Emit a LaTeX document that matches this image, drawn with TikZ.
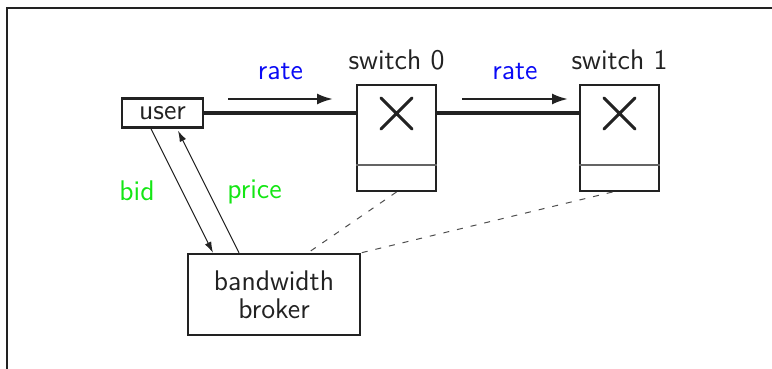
\documentclass[tikz,border=0pt]{standalone}
\usepackage{xcolor}
\usepackage{tikz}
\usetikzlibrary{arrows.meta, positioning, shapes.misc, calc}
\definecolor{dkgray}{RGB}{34,34,34}
\definecolor{rateblue}{RGB}{10,10,245}
\definecolor{bidgreen}{RGB}{20,230,20}
\tikzset{
    userbox/.style={rectangle, draw=dkgray, line width=1.2pt, fill=white,
                    minimum width=40.5pt, minimum height=14.5pt, inner sep=0pt,
                    font=\sffamily\fontsize{14.2}{14.5}\selectfont, text=dkgray},
    switchbox/.style={rectangle, draw=dkgray, line width=1pt,
                      minimum width=39.5pt, minimum height=53pt, inner sep=0pt},
    brokerbox/.style={rectangle, draw=dkgray, line width=1.2pt, align=center,
                      minimum width=86pt, minimum height=40.5pt, inner sep=0pt,
                      font=\sffamily\fontsize{14.2}{14}\selectfont, text=dkgray},
    xmark/.style={cross out, draw=dkgray, line width=1.5pt, line cap=round,
                  minimum size=14pt, inner sep=0pt},
    divider/.style={draw=dkgray!70, line width=0.7pt},
    link/.style={draw=dkgray, line width=1.8pt},
    ratearrow/.style={-{Latex[length=8pt, width=5.5pt]}, line width=1.2pt, draw=dkgray},
    msgarrow/.style={-{Latex[length=5.5pt, width=3.5pt]}, line width=0.5pt, draw=dkgray},
    control/.style={draw=dkgray!80, line width=0.5pt, dash pattern=on 3pt off 4pt},
    caption/.style={font=\sffamily\fontsize{14.2}{14.5}\selectfont, text=dkgray, inner sep=0pt},
    ratelabel/.style={font=\sffamily\fontsize{14.2}{14.5}\selectfont, text=rateblue, inner sep=0pt},
    msglabel/.style={font=\sffamily\fontsize{14.2}{14.5}\selectfont, text=bidgreen, inner sep=0pt},
}

\begin{document}
\begin{tikzpicture}[x=0.5pt, y=-0.5pt]
    \useasboundingbox (0,0) rectangle (772,369);
    % Frame
    \draw[dkgray, line width=1pt] (7,369) -- (7,8) -- (772,8);

    % Nodes
    \node[userbox] (user) at (162.5,113) {user};
    \node[switchbox] (sw0) at (396.5,138) {};
    \node[switchbox, right=71pt of sw0] (sw1) {};
    \node[brokerbox] (broker) at (274,294.5) {bandwidth\\broker};

    % Switch internals
    \node[xmark, below=7pt of sw0.north] (x0) {};
    \node[xmark, below=7pt of sw1.north] (x1) {};
    \draw[divider] ([yshift=13.5pt]sw0.south west) -- ([yshift=13.5pt]sw0.south east);
    \draw[divider] ([yshift=13.5pt]sw1.south west) -- ([yshift=13.5pt]sw1.south east);
    \node[caption, above=7pt of sw0] (sw0name) {switch 0};
    \node[caption, above=7pt of sw1] (sw1name) {switch 1};

    % Links
    \draw[link] (user.east) -- (user.east -| sw0.west);
    \draw[link] (user.east -| sw0.east) -- (user.east -| sw1.west);

    % Rate arrows
    \coordinate (r0a) at (228,99);
    \coordinate (r0b) at (333,99);
    \coordinate (r1a) at (462,99);
    \coordinate (r1b) at (568,99);
    \draw[ratearrow] (r0a) -- node[ratelabel, above=9pt] (rate0) {rate} (r0b);
    \draw[ratearrow] (r1a) -- node[ratelabel, above=9pt] (rate1) {rate} (r1b);

    % Bid and price
    \draw[msgarrow] ([xshift=-5.75pt]user.south) -- node[msglabel, midway, xshift=-22.5pt] (bid) {bid} ([xshift=-30.5pt]broker.north);
    \draw[msgarrow] ([xshift=-17.5pt]broker.north) -- node[msglabel, midway, xshift=23pt] (price) {price} ([xshift=7.75pt, yshift=-1pt]user.south);

    % Control lines
    \draw[control] (sw0.south) -- ([xshift=17pt]broker.north);
    \draw[control] ([xshift=-3.5pt]sw1.south) -- (broker.north east);
\end{tikzpicture}
\end{document}
